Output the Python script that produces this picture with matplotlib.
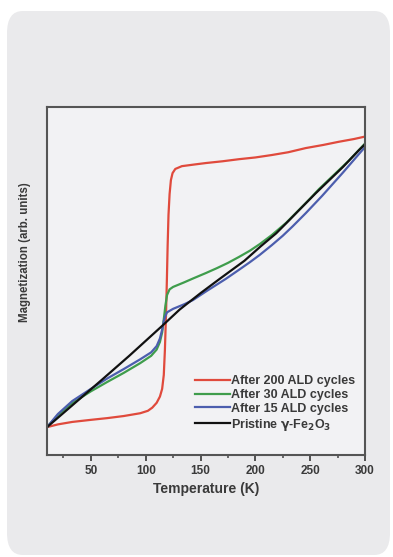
import matplotlib
matplotlib.use("Agg")
import matplotlib.pyplot as plt
from matplotlib.patches import FancyBboxPatch

# values (magnetization normalised 0..1)
t_red = [10, 20, 33, 50, 65, 80, 95, 102, 106, 110, 113, 115, 116.5, 117.5, 118.5, 119.3, 120, 120.8, 121.8, 123, 124.5, 127, 133, 145, 155, 170, 185, 200, 215, 230, 246, 262, 276, 290, 300]
m_red = [0.08, 0.088, 0.095, 0.101, 0.106, 0.112, 0.12, 0.127, 0.136, 0.15, 0.168, 0.19, 0.23, 0.3, 0.4, 0.5, 0.6, 0.69, 0.75, 0.79, 0.81, 0.822, 0.83, 0.835, 0.839, 0.844, 0.85, 0.855, 0.862, 0.87, 0.882, 0.891, 0.9, 0.908, 0.915]

t_green = [10, 20, 33, 50, 65, 80, 95, 105, 110, 113, 115, 116.5, 118, 119.5, 121.8, 125, 135, 143, 155, 165, 175, 185, 195, 204, 215, 228, 240, 250, 258, 270, 285, 300]
m_green = [0.08, 0.115, 0.149, 0.183, 0.21, 0.236, 0.264, 0.285, 0.303, 0.325, 0.352, 0.39, 0.43, 0.46, 0.476, 0.483, 0.496, 0.507, 0.523, 0.537, 0.552, 0.569, 0.587, 0.606, 0.632, 0.667, 0.705, 0.737, 0.764, 0.8, 0.845, 0.895]

t_blue = [10, 20, 33, 50, 65, 80, 95, 105, 110, 113, 115, 116.5, 118, 119.5, 125, 135, 143, 155, 165, 173, 185, 195, 204, 215, 225, 234, 246, 261, 280, 300]
m_blue = [0.08, 0.118, 0.155, 0.19, 0.22, 0.247, 0.275, 0.295, 0.313, 0.335, 0.36, 0.385, 0.4, 0.41, 0.42, 0.433, 0.445, 0.47, 0.49, 0.506, 0.532, 0.554, 0.575, 0.603, 0.63, 0.657, 0.695, 0.745, 0.812, 0.885]

t_black = [10, 35, 60, 85, 115, 131, 150, 167, 180, 190, 205, 219, 231, 240, 255, 280, 294.5, 300]
m_black = [0.08, 0.148, 0.216, 0.285, 0.371, 0.418, 0.465, 0.505, 0.535, 0.558, 0.6, 0.637, 0.675, 0.704, 0.752, 0.828, 0.876, 0.893]

series = [
    ("After 200 ALD cycles", t_red, m_red, "#e04a3c"),
    ("After 30 ALD cycles", t_green, m_green, "#3f9d4c"),
    ("After 15 ALD cycles", t_blue, m_blue, "#4c5eae"),
    ("Pristine $\\gamma$-Fe$_2$O$_3$", t_black, m_black, "#111111"),
]

xticks = [50, 100, 150, 200, 250, 300]
minor_ticks = [25, 75, 125, 175, 225, 275]

plt.rcParams["font.family"] = ["Liberation Sans", "DejaVu Sans"]
plt.rcParams["mathtext.default"] = "bf"

fig = plt.figure(figsize=(3.93, 5.57), dpi=100)
fig.patch.set_facecolor("white")
card = FancyBboxPatch((7 / 393, 2 / 557), 383 / 393, 544 / 557,
                      boxstyle="round,pad=0,rounding_size=0.04",
                      transform=fig.transFigure, facecolor="#eaeaec",
                      edgecolor="none", zorder=-5)
fig.patches.append(card)

ax = fig.add_axes([47 / 393, 102 / 557, 318 / 393, 348 / 557])
ax.set_facecolor("#f2f2f4")

for label, t, m, c in series:
    ax.plot(t, m, color=c, linewidth=1.6, label=label)

ax.set_xlim(10, 300)
ax.set_ylim(0, 1)
ax.set_xticks(xticks)
ax.set_xticks(minor_ticks, minor=True)
ax.set_yticks([])
ax.tick_params(axis="x", which="major", direction="out", length=4.5, width=1.3,
               labelsize=8.5, colors="#444444", labelcolor="#3a3a3a", pad=2.5)
ax.tick_params(axis="x", which="minor", direction="out", length=2.5, width=1.1, colors="#444444")
for lbl in ax.get_xticklabels():
    lbl.set_fontweight("bold")
for s in ax.spines.values():
    s.set_color("#555555")
    s.set_linewidth(1.5)

ax.set_xlabel("Temperature (K)", fontsize=10, fontweight="bold", color="#3a3a3a", labelpad=4)
fig.text(25 / 393, 1 - 252 / 557, "Magnetization (arb. units)", rotation=90,
         ha="center", va="center", fontsize=8.3, fontweight="bold", color="#3a3a3a")

leg = ax.legend(loc="upper left", bbox_to_anchor=(195 / 393, 1 - 375 / 557),
                bbox_transform=fig.transFigure, frameon=False,
                prop={"size": 9, "weight": "bold"},
                handlelength=2.8, handletextpad=0.08, labelspacing=0.15,
                borderpad=0, borderaxespad=0)
for txt in leg.get_texts():
    txt.set_color("#3a3a3a")

fig.savefig("out.png", dpi=100, facecolor=fig.get_facecolor())
